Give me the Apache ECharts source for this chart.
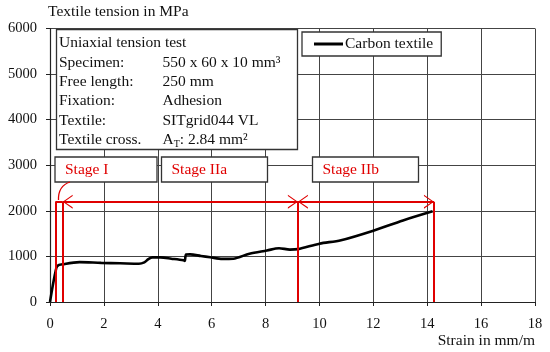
<!DOCTYPE html>
<html><head><meta charset="utf-8">
<script src="https://cdn.jsdelivr.net/npm/echarts@6/dist/echarts.min.js"></script>
<style>html,body{margin:0;padding:0;background:#fff}#c{width:550px;height:352px}</style>
</head><body><div id="c"></div>
<script>
// ---- data ----
const strain  = [0, 0.1, 0.2, 0.27, 0.5, 1.1, 1.9, 2.6, 3.3, 3.5, 3.65, 3.8, 4.1, 4.5, 4.95, 5.0, 5.05, 5.2, 5.6, 5.95, 6.4, 6.8, 7.4, 8.05, 8.5, 8.9, 9.2, 10.0, 10.8, 12.0, 13.1, 14.2];
const tension = [0, 350, 650, 790, 830, 875, 858, 850, 840, 870, 940, 980, 978, 950, 915, 900, 1040, 1045, 1010, 980, 945, 950, 1060, 1130, 1180, 1150, 1160, 1280, 1355, 1565, 1790, 1990];
const stageX = [0.2, 0.47, 9.2, 14.25];
const stageY = 2200;
const stageLabels = ['Stage I', 'Stage IIa', 'Stage IIb'];
const infoLabels = ['Specimen:', 'Free length:', 'Fixation:', 'Textile:', 'Textile cross.'];
const infoValues = ['550 x 60 x 10 mm³', '250 mm', 'Adhesion', 'SITgrid044 VL', '{n|A}{s|T}{n|: 2.84 mm²}'];
const infoTitle = 'Uniaxial tension test';
const xTicks = {min: 0, max: 18, interval: 2};
const yTicks = {min: 0, max: 6000, interval: 1000};

const FONT = 'Liberation Serif';
const FS = 15.5;
const RED = '#e00000';
const chev = 'path://M0,10 L5,0 L10,10 L9,10 L5,1.8 L1,10 Z';
const arrowEnd = {symbol: chev, symbolSize: [14, 10], symbolOffset: [0, 5]};

const pts = strain.map((x, i) => [x, tension[i]]);
const redLines = [];
// vertical stage boundary lines
stageX.forEach(x => redLines.push([{coord: [x, 0]}, {coord: [x, stageY]}]));
// small top connector for stage I
redLines.push([{coord: [stageX[0], stageY]}, {coord: [stageX[1], stageY]}]);
// arrows stage IIa and IIb
redLines.push([Object.assign({coord: [stageX[1], stageY]}, arrowEnd), Object.assign({coord: [stageX[2], stageY]}, arrowEnd)]);
redLines.push([Object.assign({coord: [stageX[2], stageY]}, arrowEnd), Object.assign({coord: [stageX[3], stageY]}, arrowEnd)]);

const chart = echarts.init(document.getElementById('c'), null, {renderer: 'canvas'});

const boxStyle = {fill: '#fff', stroke: '#333', lineWidth: 1.3};
const font = FS + 'px ' + FONT;
const graphics = [];
// info box
graphics.push({type: 'rect', shape: {x: 56.5, y: 29.5, width: 241, height: 120}, style: boxStyle, z: 100});
graphics.push({type: 'text', x: 59, y: 43, style: {text: infoTitle, font: font, fill: '#111', verticalAlign: 'middle'}, z: 101});
infoLabels.forEach((t, i) => {
  const y = 62.5 + i * 19.4;
  graphics.push({type: 'text', x: 59, y: y, style: {text: t, font: font, fill: '#111', verticalAlign: 'middle'}, z: 101});
  graphics.push({type: 'text', x: 162.5, y: y, style: {text: infoValues[i], font: font, fill: '#111', verticalAlign: 'middle',
    rich: {n: {fontFamily: FONT, fontSize: FS, fill: '#111'}, s: {fontFamily: FONT, fontSize: 10, fill: '#111', padding: [8, 0, 0, 0]}}}, z: 101});
});
// stage label boxes
const stageBoxes = [[55, 102], [161.5, 106], [312.5, 106]];
stageBoxes.forEach((b, i) => {
  graphics.push({type: 'rect', shape: {x: b[0], y: 157, width: b[1], height: 25}, style: boxStyle, z: 100});
  graphics.push({type: 'text', x: b[0] + 10, y: 170, style: {text: stageLabels[i], font: font, fill: RED, verticalAlign: 'middle'}, z: 101});
});
// connector for stage I
graphics.push({type: 'bezierCurve', shape: {x1: 70, y1: 182, cpx1: 58, cpy1: 186, x2: 58.5, y2: 200}, style: {stroke: RED, lineWidth: 1.3, fill: null}, z: 100});

chart.setOption({
  animation: false,
  backgroundColor: '#fff',
  grid: {left: 50, right: 15, top: 28.5, bottom: 50, containLabel: false},
  legend: {
    data: ['Carbon textile'], left: 302, top: 32, orient: 'horizontal',
    icon: 'rect',
    backgroundColor: '#fff', borderColor: '#333', borderWidth: 1.3, borderRadius: 0,
    padding: [4, 8, 4, 12], itemWidth: 29, itemHeight: 3, itemGap: 2,
    textStyle: {fontFamily: FONT, fontSize: FS, color: '#111', padding: [0, 0, 0, -3]},
    z: 100
  },
  xAxis: {
    type: 'value', min: xTicks.min, max: xTicks.max, interval: xTicks.interval,
    name: 'Strain in mm/m', nameLocation: 'end', nameGap: 0,
    nameTextStyle: {fontFamily: FONT, fontSize: FS, color: '#111', align: 'right', verticalAlign: 'top', padding: [31, 0, 0, 0]},
    axisLine: {lineStyle: {color: '#222', width: 1.2}},
    axisTick: {show: true, length: 4, inside: false, lineStyle: {color: '#222'}},
    axisLabel: {fontFamily: FONT, fontSize: 14.5, color: '#111', margin: 15},
    splitLine: {show: true, lineStyle: {color: '#444', width: 1}}
  },
  yAxis: {
    type: 'value', min: yTicks.min, max: yTicks.max, interval: yTicks.interval,
    name: 'Textile tension in MPa', nameLocation: 'end', nameGap: 9,
    nameTextStyle: {fontFamily: FONT, fontSize: FS, color: '#111', align: 'left', padding: [0, 0, 0, -2]},
    axisLine: {show: true, lineStyle: {color: '#222', width: 1.2}},
    axisTick: {show: true, length: 4, lineStyle: {color: '#222'}},
    axisLabel: {fontFamily: FONT, fontSize: 14.5, color: '#111', margin: 13, formatter: v => String(v)},
    splitLine: {show: true, lineStyle: {color: '#444', width: 1}}
  },
  series: [
    {
      name: 'Carbon textile', type: 'line', data: pts, symbol: 'none', smooth: 0.3,
      lineStyle: {color: '#000', width: 2.6}, itemStyle: {color: '#000'}, z: 3
    },
    {
      name: 'stages', type: 'line', data: [], symbol: 'none', z: 4,
      markLine: {
        silent: true, symbol: 'none', animation: false,
        label: {show: false},
        lineStyle: {color: RED, width: 2, type: 'solid'},
        itemStyle: {color: RED},
        emphasis: {disabled: true},
        data: redLines
      }
    }
  ],
  graphic: graphics
});
</script></body></html>
